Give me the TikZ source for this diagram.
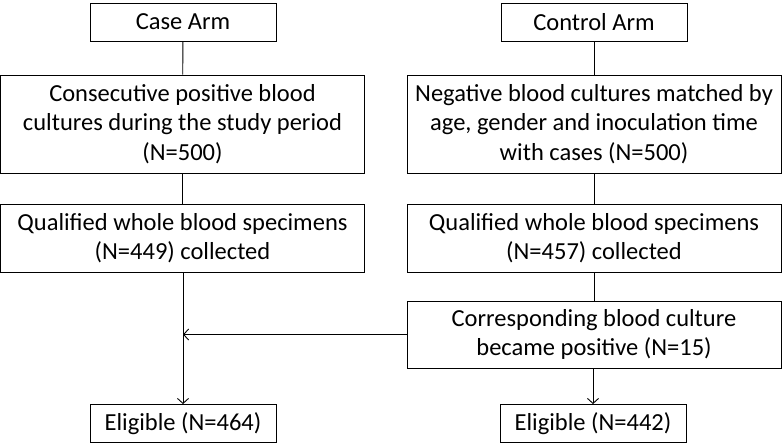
\documentclass[tikz,border=0pt]{standalone}
\usepackage{fontspec}
\setmainfont{Carlito}
\usetikzlibrary{arrows.meta}
\begin{document}
\begin{tikzpicture}[x=1pt,y=-1pt,
  box/.style={draw,line width=0.9pt,align=center,inner sep=0pt,font=\fontsize{24.5}{29.5}\selectfont},
  conn/.style={line width=0.9pt},
  arr/.style={line width=0.9pt,-{Straight Barb[length=5pt,width=11pt]}}]
\useasboundingbox (0,0) rectangle (783,445);
% left column
\node[box,minimum width=186pt,minimum height=38pt] (case) at (183,22) {Case Arm};
\node[box,minimum width=364pt,minimum height=98pt] (cons) at (182.5,124) {Consecutive positive blood\\cultures during the study period\\(N=500)};
\node[box,minimum width=364pt,minimum height=68pt] (qualL) at (182.5,238) {Qualified whole blood specimens\\(N=449) collected};
\node[box,minimum width=186pt,minimum height=38pt] (eligL) at (183,423.5) {Eligible (N=464)};
% right column
\node[box,minimum width=186pt,minimum height=38pt] (ctrl) at (594,22) {Control Arm};
\node[box,minimum width=374pt,minimum height=98pt] (neg) at (594,124) {Negative blood cultures matched by\\age, gender and inoculation time\\with cases (N=500)};
\node[box,minimum width=374pt,minimum height=68pt] (qualR) at (594,238) {Qualified whole blood specimens\\(N=457) collected};
\node[box,minimum width=374pt,minimum height=67pt] (corr) at (594,334.5) {Corresponding blood culture\\became positive (N=15)};
\node[box,minimum width=186pt,minimum height=38pt] (eligR) at (593,423.5) {Eligible (N=442)};
% connectors
\draw[conn] (case) -- (cons);
\draw[conn] (cons) -- (qualL);
\draw[arr] (qualL.south -| eligL.north) -- (eligL.north);
\draw[conn] (ctrl) -- (neg);
\draw[conn] (neg) -- (qualR);
\draw[conn] (qualR) -- (corr);
\draw[arr] (corr.south -| eligR.north) -- (eligR.north);
\coordinate (join) at (eligL.north |- corr.west);
\draw[arr] (corr.west) -- (join);
\end{tikzpicture}
\end{document}
